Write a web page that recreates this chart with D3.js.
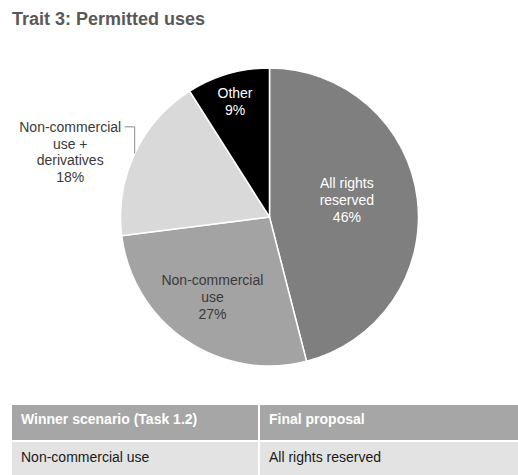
<!DOCTYPE html>
<html>
<head>
  <title>Trait 3: Permitted uses</title>
  <style>
    body { margin: 0; background: #ffffff; }
    svg { display: block; font-family: "Liberation Sans", Arial, sans-serif; }
  </style>
</head>
<body>
  <div id="chart"></div>

  <script src="https://d3js.org/d3.v7.min.js"></script>
  <script>
    // Slice data, clockwise from 12 o'clock
    var categories = ["All rights reserved", "Non-commercial use", "Non-commercial use + derivatives", "Other"];
    var values = [46, 27, 18, 9];
    var labelLines = [
      ["All rights", "reserved"],
      ["Non-commercial", "use"],
      ["Non-commercial", "use +", "derivatives"],
      ["Other"]
    ];

    // Table below the pie
    var tableHeader = ["Winner scenario (Task 1.2)", "Final proposal"];
    var tableRow = ["Non-commercial use", "All rights reserved"];

    // Layout
    var width = 518, height = 475;
    var cx = 269.5, cy = 217, radius = 149;
    var sliceColors = ["#7f7f7f", "#a3a3a3", "#d9d9d9", "#000000"];
    var labelColors = ["#ffffff", "#3a3a3a", "#3a3a3a", "#ffffff"];
    var labelRadius = [80, 98, null, 120];      // null = outside label with leader line
    var labelNudge = [[-2, -7], [-2, -1], [0, 0], [-1, 0]];
    var lineH = 16.8;

    var svg = d3.select("#chart")
      .append("svg")
      .attr("width", width)
      .attr("height", height);

    // Title
    svg.append("text")
      .attr("x", 12)
      .attr("y", 25)
      .attr("font-size", 18)
      .attr("font-weight", "bold")
      .attr("fill", "#595959")
      .text("Trait 3: Permitted uses");

    var pie = d3.pie().sort(null).value(function(d) { return d; });
    var arcs = pie(values);
    var arc = d3.arc().innerRadius(0).outerRadius(radius);

    var g = svg.append("g").attr("transform", "translate(" + cx + "," + cy + ")");

    g.selectAll("path")
      .data(arcs)
      .enter()
      .append("path")
      .attr("d", arc)
      .attr("fill", function(d, i) { return sliceColors[i]; })
      .attr("stroke", "#ffffff")
      .attr("stroke-width", 1.5);

    function drawLabel(x, y, lines, color) {
      var t = g.append("text")
        .attr("text-anchor", "middle")
        .attr("font-size", 14)
        .attr("fill", color);
      var first = y - (lines.length - 1) / 2 * lineH + 5;
      lines.forEach(function(line, k) {
        t.append("tspan")
          .attr("x", x)
          .attr("y", first + k * lineH)
          .text(line);
      });
    }

    arcs.forEach(function(d, i) {
      var lines = labelLines[i].concat([values[i] + "%"]);
      if (labelRadius[i] !== null) {
        var c = d3.arc().innerRadius(labelRadius[i]).outerRadius(labelRadius[i]).centroid(d);
        drawLabel(c[0] + labelNudge[i][0], c[1] + labelNudge[i][1], lines, labelColors[i]);
      } else {
        // outside label with elbow leader line
        var e = d3.arc().innerRadius(radius).outerRadius(radius).centroid(d);
        var lx = e[0] - 64.5, ly = e[1] - 1.5;
        var topY = ly - (lines.length - 1) / 2 * lineH;
        g.append("path")
          .attr("d", "M" + e[0] + "," + e[1] + "V" + topY + "H" + (e[0] - 10))
          .attr("fill", "none")
          .attr("stroke", "#8c8c8c")
          .attr("stroke-width", 1);
        drawLabel(lx, ly, lines, labelColors[i]);
      }
    });

    // Table
    var tx = 12, colX = [12, 260], headY = 405, headH = 35, rowY = 442, rowH = 40;
    var cols = d3.range(tableHeader.length);

    svg.selectAll("rect.head")
      .data(cols)
      .enter()
      .append("rect")
      .attr("class", "head")
      .attr("x", function(i) { return colX[i]; })
      .attr("y", headY)
      .attr("width", function(i) { return (i + 1 < colX.length ? colX[i + 1] - 2 : width) - colX[i]; })
      .attr("height", headH)
      .attr("fill", "#a6a6a6");

    svg.selectAll("rect.row")
      .data(cols)
      .enter()
      .append("rect")
      .attr("class", "row")
      .attr("x", function(i) { return colX[i]; })
      .attr("y", rowY)
      .attr("width", function(i) { return (i + 1 < colX.length ? colX[i + 1] - 2 : width) - colX[i]; })
      .attr("height", rowH)
      .attr("fill", "#e3e3e3");

    svg.selectAll("text.head")
      .data(tableHeader)
      .enter()
      .append("text")
      .attr("class", "head")
      .attr("x", function(d, i) { return colX[i] + 9; })
      .attr("y", 424)
      .attr("font-size", 14)
      .attr("font-weight", "bold")
      .attr("fill", "#ffffff")
      .text(function(d) { return d; });

    svg.selectAll("text.row")
      .data(tableRow)
      .enter()
      .append("text")
      .attr("class", "row")
      .attr("x", function(d, i) { return colX[i] + 9; })
      .attr("y", 462)
      .attr("font-size", 14)
      .attr("fill", "#1a1a1a")
      .text(function(d) { return d; });
  </script>
</body>
</html>
